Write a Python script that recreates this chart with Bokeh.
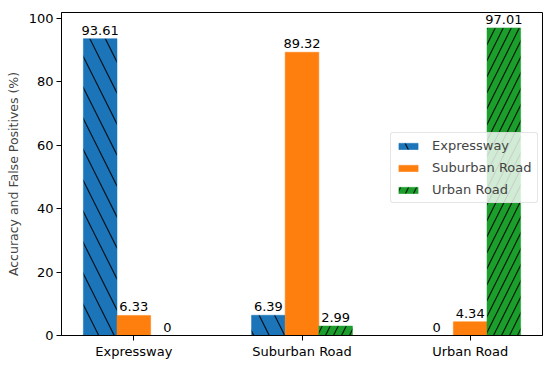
from bokeh.plotting import figure
from bokeh.models import Range1d, FixedTicker, Legend, LegendItem, ColumnDataSource
from bokeh.embed import file_html
from bokeh.resources import INLINE
from bokeh.core.properties import value

categories = ["Expressway", "Suburban Road", "Urban Road"]
series_names = ["Expressway", "Suburban Road", "Urban Road"]
expressway = [93.61, 6.39, 0]
suburban = [6.33, 89.32, 4.34]
urban = [0, 2.99, 97.01]
y_ticks = [0, 20, 40, 60, 80, 100]

colors = ["#1b75b8", "#ff7f0e", "#1c9e2c"]
hatches = ["left_diagonal_line", None, "right_diagonal_line"]
hatch_scales = [31, 12, 16]
offsets = [-0.2, 0.0, 0.2]
width = 0.2
FONT = "DejaVu Sans"

p = figure(frame_width=481, frame_height=323, output_backend="svg", toolbar_location=None,
           x_range=Range1d(-0.43, 2.43), y_range=Range1d(0, 101.86),
           min_border_left=61, min_border_right=8, min_border_top=12, min_border_bottom=33)
p.xgrid.visible = False
p.ygrid.visible = False
p.outline_line_color = "black"
p.outline_line_width = 1
p.background_fill_color = "white"
p.border_fill_color = "white"

items = []
for name, vals, c, h, hs, off in zip(series_names, [expressway, suburban, urban], colors, hatches, hatch_scales, offsets):
    xs = [i + off for i in range(len(categories))]
    src = ColumnDataSource(dict(x=xs, top=vals, label=[f"{v:g}" for v in vals]))
    kw = {}
    if h:
        kw = dict(hatch_pattern=h, hatch_scale=hs, hatch_color="black", hatch_alpha=0.85, hatch_weight=1.2)
    r = p.vbar(x="x", top="top", width=width, source=src, fill_color=c, line_color=c, line_width=0.5, **kw)
    items.append(LegendItem(label=name, renderers=[r]))
    p.text(x="x", y="top", text="label", source=src, text_align="center", text_baseline="bottom",
           y_offset=-4, text_font=value(FONT), text_font_size="13px", text_color="black")

legend = Legend(items=items, location=(329, 132), label_text_font=FONT, label_text_font_size="13px",
                glyph_width=24, glyph_height=8, label_height=12, spacing=7, padding=5, label_standoff=12,
                border_line_color="#cccccc", border_line_width=1, border_radius=3,
                background_fill_alpha=0.8, margin=0)
p.add_layout(legend, "center")

p.xaxis.ticker = FixedTicker(ticks=list(range(len(categories))))
p.xaxis.major_label_overrides = {i: c for i, c in enumerate(categories)}
p.yaxis.ticker = FixedTicker(ticks=y_ticks)
p.yaxis.axis_label = "Accuracy and False Positives (%)"
for ax in (p.xaxis[0], p.yaxis[0]):
    ax.minor_tick_line_color = None
    ax.major_tick_out = 5
    ax.major_tick_in = 0
    ax.major_label_text_font = FONT
    ax.major_label_text_font_size = "13px"
    ax.major_label_text_color = "black"
    ax.axis_line_color = "black"
    ax.major_tick_line_color = "black"
p.yaxis.axis_label_text_font = FONT
p.yaxis.axis_label_text_font_size = "12.5px"
p.yaxis.axis_label_text_font_style = "normal"
p.yaxis.axis_label_standoff = 5
p.yaxis.major_label_standoff = 3
p.xaxis.major_label_standoff = 3

open("out.html", "w").write(file_html(p, INLINE))
